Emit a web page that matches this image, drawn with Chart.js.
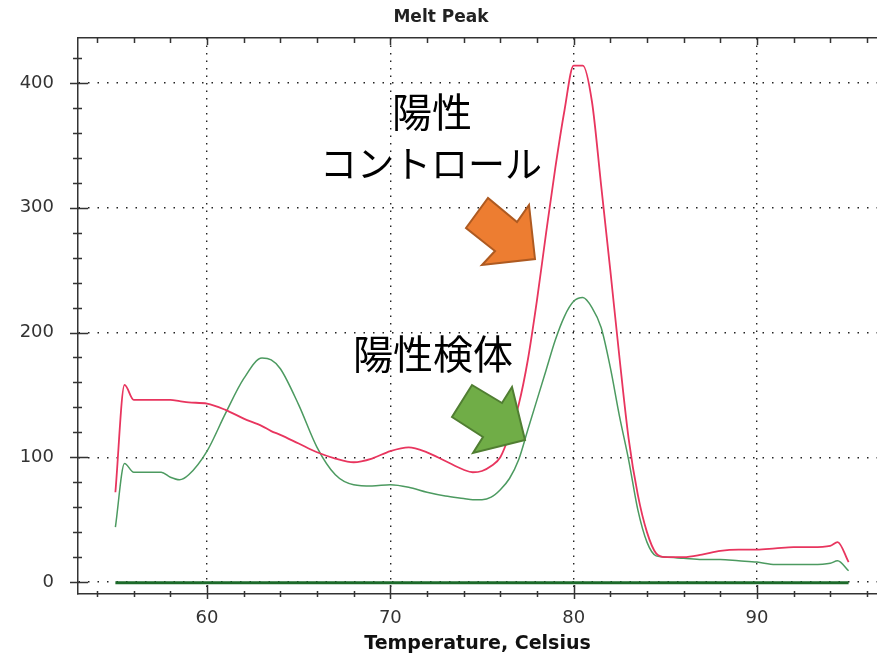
<!DOCTYPE html>
<html>
<head>
<meta charset="utf-8">
<script src="https://cdn.jsdelivr.net/npm/chart.js@4.4.1/dist/chart.umd.min.js"></script>
<style>
  html, body { margin: 0; padding: 0; background: #fff; }
  #wrap { position: relative; width: 877px; height: 653px; }
</style>
</head>
<body>
<div id="wrap"><canvas id="chart"></canvas></div>
<script>
// Temperatures (Celsius) shared by both melt curves
const temps = [55, 55.5, 56, 57, 57.5, 58, 58.5, 59, 60, 61, 62, 63, 63.5, 64, 65, 66, 67, 68, 69, 70,
  71, 72, 73, 74, 74.5, 75, 75.5, 76, 76.5, 77, 77.5, 78, 78.5, 79, 79.5, 80, 80.5, 81, 81.5, 82,
  82.5, 83, 83.5, 84, 84.5, 85, 86, 87, 88, 89, 90, 91, 92, 93, 94, 94.4, 95];
// Positive control (red)
const controlValues = [72, 158, 146, 146, 146, 146, 145, 144, 143, 138, 131, 125, 121, 118, 111, 104, 99, 96, 99, 105,
  108, 104, 97, 90, 88, 89, 93, 100, 118, 142, 178, 226, 280, 332, 378, 414, 414, 385, 318, 250,
  180, 115, 70, 40, 23, 20, 20, 22, 25, 26, 26, 27, 28, 28, 29, 32, 16];
// Positive sample (green)
const sampleValues = [44, 95, 88, 88, 88, 84, 82, 86, 105, 135, 163, 179.5, 178, 171, 142, 108, 86, 78, 77, 78,
  76, 72, 69, 67, 66, 66, 68, 74, 83, 98, 122, 146, 170, 194, 213, 225, 228, 220, 204, 172,
  133, 98, 58, 32, 21, 20, 19, 18, 18, 17, 16, 14, 14, 14, 15, 17, 9];
// Flat negative trace
const baselineTemps = [55, 95];
const baselineValues = [-0.5, -0.5];

const xTickValues = [54, 56, 58, 60, 62, 64, 66, 68, 70, 72, 74, 76, 78, 80, 82, 84, 86, 88, 90, 92, 94, 96];
const xLabelValues = [60, 70, 80, 90];
const yTickValues = [0, 20, 40, 60, 80, 100, 120, 140, 160, 180, 200, 220, 240, 260, 280, 300, 320, 340, 360, 380, 400, 420];
const yLabelValues = [0, 100, 200, 300, 400];

const X_MIN = 52.96, X_MAX = 96.55, Y_MIN = -9.6, Y_MAX = 436.1;

function points(xs, ys) { return xs.map((t, i) => ({ x: t, y: ys[i] })); }

/* Tick marks crossing the frame, like the instrument software */
const axisTicks = {
  id: 'axisTicks',
  afterDraw(chart) {
    const { ctx, chartArea: a, scales: { x, y } } = chart;
    ctx.save();
    ctx.strokeStyle = '#333';
    ctx.lineWidth = 1.5;
    ctx.beginPath();
    x.ticks.forEach(t => {
      const px = Math.round(x.getPixelForValue(t.value)) + 0.5;
      const major = xLabelValues.includes(t.value);
      ctx.moveTo(px, a.bottom - (major ? 9 : 3));
      ctx.lineTo(px, a.bottom + (major ? 5 : 3));
      ctx.moveTo(px, a.top);
      ctx.lineTo(px, a.top + (major ? 7 : 5));
    });
    y.ticks.forEach(t => {
      const py = Math.round(y.getPixelForValue(t.value)) + 0.5;
      const major = yLabelValues.includes(t.value);
      ctx.moveTo(a.left - (major ? 8 : 5), py);
      ctx.lineTo(a.left + (major ? 10 : 4), py);
    });
    ctx.stroke();
    ctx.restore();
  }
};

/* Title, Japanese callouts and arrows */
const callouts = {
  id: 'callouts',
  afterDraw(chart) {
    const ctx = chart.ctx;
    ctx.save();
    ctx.fillStyle = '#222';
    ctx.font = 'bold 17px "DejaVu Sans"';
    ctx.textAlign = 'center';
    ctx.textBaseline = 'middle';
    ctx.fillText('Melt Peak', 441, 18);

    ctx.fillStyle = '#000';
    ctx.font = '40px "Noto Sans CJK JP"';
    ctx.fillText('陽性', 432, 112);
    ctx.fillText('陽性検体', 433, 354);
    ctx.font = '37px "Noto Sans CJK JP"';
    ctx.fillText('コントロール', 431, 164);

    const arrow = (pts, fill, stroke) => {
      ctx.beginPath();
      pts.forEach(([px, py], i) => i ? ctx.lineTo(px, py) : ctx.moveTo(px, py));
      ctx.closePath();
      ctx.fillStyle = fill;
      ctx.fill();
      ctx.lineWidth = 2;
      ctx.lineJoin = 'miter';
      ctx.strokeStyle = stroke;
      ctx.stroke();
    };
    arrow([[535, 259], [529, 205], [517, 222], [488, 198], [466, 228], [495, 251], [482, 265]], '#ED7D31', '#AE5A21');
    arrow([[525, 440], [512, 387], [502, 403], [472, 385], [452, 417], [483, 437], [473, 453]], '#70AD47', '#507E32');
    ctx.restore();
  }
};

Chart.defaults.font.family = '"DejaVu Sans"';

new Chart(document.getElementById('chart'), {
  type: 'line',
  data: {
    datasets: [
      { label: 'Positive control', data: points(temps, controlValues), borderColor: '#e8355e',
        borderWidth: 1.8, pointRadius: 0, cubicInterpolationMode: 'monotone', xAxisID: 'x', yAxisID: 'y' },
      { label: 'Positive sample', data: points(temps, sampleValues), borderColor: '#4c9a60',
        borderWidth: 1.5, pointRadius: 0, cubicInterpolationMode: 'monotone', xAxisID: 'x', yAxisID: 'y' },
      { label: 'Negative', data: points(baselineTemps, baselineValues), borderColor: '#1d6b2b',
        borderWidth: 3, pointRadius: 0, xAxisID: 'x', yAxisID: 'y' }
    ]
  },
  options: {
    responsive: true,
    maintainAspectRatio: false,
    animation: false,
    layout: { padding: 0 },
    plugins: { legend: { display: false }, title: { display: false }, tooltip: { enabled: false } },
    scales: {
      x: {
        type: 'linear', position: 'bottom', min: X_MIN, max: X_MAX,
        afterBuildTicks: s => { s.ticks = xTickValues.map(v => ({ value: v })); },
        afterFit: s => { s.height = 59; },
        ticks: {
          autoSkip: false, maxRotation: 0, padding: 0, color: '#333',
          font: { size: 18, lineHeight: 2.67 },
          callback: v => xLabelValues.includes(v) ? String(v) : ''
        },
        grid: {
          drawTicks: false, lineWidth: 1.4,
          color: c => xLabelValues.includes(c.tick && c.tick.value) ? '#222' : 'transparent'
        },
        border: { display: true, color: '#333', width: 1.5, dash: [1.5, 6] },
        title: { display: true, text: 'Temperature, Celsius', color: '#111',
          font: { size: 19, weight: 'bold' }, padding: { top: 0, bottom: -2 } }
      },
      x2: {
        type: 'linear', position: 'top', min: X_MIN, max: X_MAX, display: true,
        afterFit: s => { s.height = 38; },
        ticks: { display: false, padding: 0 },
        grid: { display: false, drawTicks: false },
        border: { display: true, color: '#333', width: 1.5 }
      },
      y: {
        type: 'linear', position: 'left', min: Y_MIN, max: Y_MAX,
        afterBuildTicks: s => { s.ticks = yTickValues.map(v => ({ value: v })); },
        afterFit: s => { s.width = 78; },
        ticks: {
          autoSkip: false, padding: 24, color: '#333',
          font: { size: 18 },
          callback: v => yLabelValues.includes(v) ? String(v) : ''
        },
        grid: {
          drawTicks: false, lineWidth: 1.4,
          color: c => yLabelValues.includes(c.tick && c.tick.value) ? '#222' : 'transparent'
        },
        border: { display: true, color: '#333', width: 1.5, dash: [1.5, 8] }
      }
    }
  },
  plugins: [axisTicks, callouts]
});
</script>
</body>
</html>
